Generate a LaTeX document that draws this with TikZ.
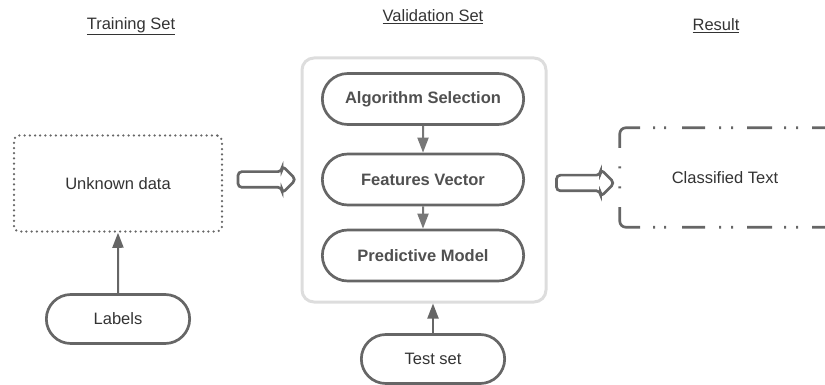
\documentclass[tikz,border=0pt]{standalone}
\usepackage{fontspec}
\setmainfont{Liberation Sans}
\usepackage{xcolor}
\definecolor{inkdark}{HTML}{333333}
\definecolor{boldgray}{HTML}{505050}
\definecolor{edgegray}{HTML}{666666}
\definecolor{linkgray}{HTML}{777777}
\definecolor{framegray}{HTML}{DDDDDD}
\usepackage{tikz}
\usetikzlibrary{arrows.meta, positioning, shapes.misc, shapes.arrows}

\begin{document}
\begin{tikzpicture}[
  x=1pt, y=-1pt,
  every node/.style={font=\fontsize{16.5}{20}\selectfont, text=inkdark, align=center},
  pill/.style={draw=edgegray, line width=2.7pt, rounded rectangle, fill=white,
    minimum width=150pt, minimum height=49pt},
  stagebox/.style={pill, minimum width=208pt, minimum height=51pt,
    font=\fontsize{16.5}{20}\selectfont\bfseries, text=boldgray},
  hollow/.style={single arrow, draw=edgegray, line width=2.7pt, rounded corners=4pt,
    minimum height=58pt, minimum width=25pt, inner sep=6.5pt,
    single arrow head extend=6pt},
  link/.style={-{Triangle[length=15pt, width=11pt]}, line width=2pt, draw=linkgray},
  resultline/.style={draw=edgegray, line width=2.7pt, rounded corners=6pt,
    dash pattern=on 0pt off 9pt on 2pt off 18.5pt on 38pt off 13pt on 2pt off 9pt
      on 2pt off 16pt on 23pt off 14pt on 2pt off 10pt on 2pt off 14pt on 25pt
      off 12pt on 2pt off 10pt on 2pt off 14pt on 25pt off 100pt},
]
\useasboundingbox (0,0) rectangle (825,385);

% headings
\node (train) at (131,26) {\underline{Training Set}};
\node (validtitle) at (433,17) {\underline{Validation Set}};
\node (resulttitle) at (716,26) {\underline{Result}};

% training side
\node[draw=edgegray, line width=2.5pt, line cap=round, dash pattern=on 0pt off 5.2pt,
  rounded corners=5pt, minimum width=208pt, minimum height=96pt] (unknown) at (118,183.5) {Unknown data};
\node[pill] (labels) at (118,319) {Labels};
\draw[link, draw=edgegray] (labels) -- (unknown);

% validation block
\node[draw=framegray, line width=3pt, rounded corners=12pt,
  minimum width=244pt, minimum height=244pt] (valid) at (424,180) {};
\node[stagebox] (algo) at (423,99) {Algorithm Selection};
\node[stagebox] (feat) at (423,179.5) {Features Vector};
\node[stagebox] (pred) at (423,255.5) {Predictive Model};
\draw[link] (algo) -- (feat);
\draw[link] (feat) -- (pred);

\node[pill] (test) at (433,359) {Test set};
\draw[link, draw=edgegray] (test.north) -- (test.north |- valid.south);

% hollow arrows
\node[hollow] (feed) at (263,179.5) {};
\node[hollow] (emit) at (581.5,183) {};

% result
\node[minimum width=210pt, minimum height=99pt, inner sep=0pt] (result) at (725,177.5) {Classified Text};
\begin{scope}
  \clip (0,0) rectangle (825,385);
  \draw[resultline] (result.west) -- (result.north west) -- (result.north east);
  \draw[resultline] (result.west) -- (result.south west) -- (result.south east);
\end{scope}
\end{tikzpicture}
\end{document}
